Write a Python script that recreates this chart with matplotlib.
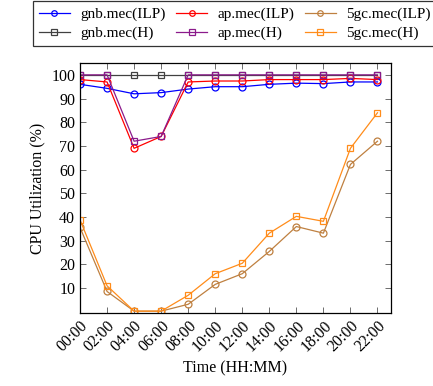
import matplotlib
matplotlib.use("Agg")
import matplotlib.pyplot as plt

plt.rcParams["font.family"] = ["Liberation Serif", "DejaVu Serif"]
plt.rcParams["mathtext.fontset"] = "stix"

hours = ["00:00", "02:00", "04:00", "06:00", "08:00", "10:00",
         "12:00", "14:00", "16:00", "18:00", "20:00", "22:00"]

gnb_ilp = [96, 94.3, 92, 92.5, 94, 95, 95, 96, 96.5, 96.3, 97, 97]
ap_ilp = [98, 97, 69, 74, 97, 97.4, 97.4, 98, 98, 98, 98.5, 98]
gc_ilp = [35.6, 8.6, 0.3, 0.3, 3.2, 11.6, 16.1, 25.5, 36, 33.2, 62.2, 72]
gnb_h = [100, 100, 100, 100, 100, 100, 100, 100, 100, 100, 100, 100]
ap_h = [100, 100, 72, 74, 100, 100, 100, 100, 100, 100, 100, 100]
gc_h = [38.8, 11, 0.3, 0.3, 7, 16.1, 20.5, 33.2, 40.3, 38.2, 69, 84]

# order is column-major so the 3-column legend reads ILP row / H row
series = [
    ("gnb.mec(ILP)", gnb_ilp, "blue", "o"),
    ("gnb.mec(H)", gnb_h, "#404040", "s"),
    ("ap.mec(ILP)", ap_ilp, "red", "o"),
    ("ap.mec(H)", ap_h, "#8b1a8b", "s"),
    ("5gc.mec(ILP)", gc_ilp, "#bf8040", "o"),
    ("5gc.mec(H)", gc_h, "#ff8c1a", "s"),
]

fig = plt.figure(figsize=(4.33, 3.86), dpi=100)
ax = fig.add_axes([0.1848, 0.189, 0.7182, 0.6478])

x = list(range(len(hours)))
for label, vals, color, marker in series:
    ax.plot(x, vals, color=color, marker=marker, markersize=5,
            markerfacecolor="none", markeredgewidth=0.9, linewidth=0.9,
            label=label)

ax.set_xlim(0, 11.5)
ax.set_ylim(-0.5, 105)
ax.set_xticks(x)
ax.set_xticklabels(hours, rotation=45, ha="right", rotation_mode="anchor")
ax.set_yticks(range(10, 101, 10))
ax.tick_params(direction="in", top=True, right=True, labelsize=11.5,
               length=4, width=0.6, color="#555555")
for sp in ax.spines.values():
    sp.set_linewidth(0.9)

ax.set_xlabel("Time (HH:MM)", fontsize=11.5)
ax.set_ylabel("CPU Utilization (%)", fontsize=11.5)

handles, labels = ax.get_legend_handles_labels()
leg = fig.legend(handles, labels, loc="upper left", ncol=3,
                 bbox_to_anchor=(0.076, 0.997), fontsize=11,
                 frameon=True, fancybox=False, edgecolor="black",
                 handlelength=2.0, handletextpad=0.7, columnspacing=0.7,
                 labelspacing=0.35, borderpad=0.4, borderaxespad=0,
                 markerscale=0.8)
leg.get_frame().set_linewidth(0.9)

fig.savefig("out.png", dpi=100)
